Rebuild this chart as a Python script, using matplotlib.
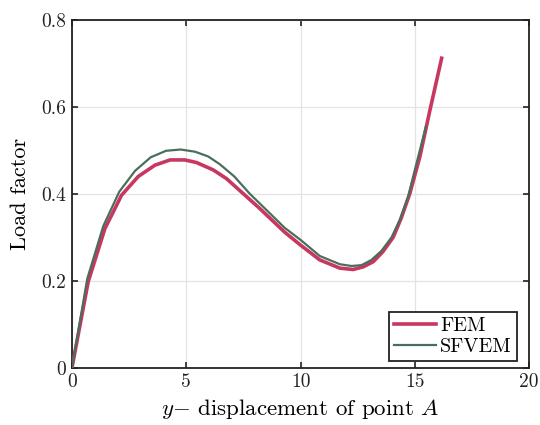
import matplotlib
matplotlib.use("Agg")
import matplotlib.pyplot as plt

plt.rcParams['font.family'] = 'cmr10'
plt.rcParams['mathtext.fontset'] = 'cm'
plt.rcParams['axes.formatter.use_mathtext'] = True

fem_x = [0, 0.71, 1.44, 2.17, 2.9, 3.63, 4.29, 4.94, 5.45, 6.18, 6.76, 7.5, 8.2, 8.66, 9.3,
         10.0, 10.84, 11.72, 12.3, 12.74, 13.18, 13.6, 14.05, 14.4, 14.78, 15.22, 15.66, 16.17]
fem_y = [0, 0.198, 0.32, 0.397, 0.44, 0.466, 0.478, 0.478, 0.472, 0.455, 0.435, 0.40, 0.367, 0.344, 0.312,
         0.282, 0.248, 0.229, 0.226, 0.232, 0.244, 0.267, 0.30, 0.344, 0.401, 0.486, 0.593, 0.712]

sf_x = [0, 0.67, 1.37, 2.07, 2.76, 3.44, 4.11, 4.75, 5.38, 5.96, 6.47, 7.1, 7.78, 8.66, 9.3,
        10.0, 10.84, 11.72, 12.23, 12.67, 13.1, 13.54, 13.98, 14.34, 14.7, 15.07, 15.48]
sf_y = [0, 0.205, 0.326, 0.405, 0.453, 0.484, 0.499, 0.502, 0.497, 0.486, 0.468, 0.44, 0.40, 0.355, 0.322,
        0.294, 0.257, 0.238, 0.234, 0.236, 0.248, 0.269, 0.30, 0.34, 0.393, 0.47, 0.554]

xticks = [0, 5, 10, 15, 20]
yticks = [0, 0.2, 0.4, 0.6, 0.8]
yticklabels = ['0', '0.2', '0.4', '0.6', '0.8']

fig = plt.figure(figsize=(5.4, 4.25), dpi=100)
ax = fig.add_axes([0.1333, 0.1348, 0.8467, 0.8182])

ax.plot(fem_x, fem_y, color='#C8375F', lw=2.6, label='FEM', zorder=3)
ax.plot(sf_x, sf_y, color='#4A6E5C', lw=1.6, label='SFVEM', zorder=4)

ax.set_xlim(0, 20)
ax.set_ylim(0, 0.8)
ax.set_xticks(xticks)
ax.set_xticklabels([str(t) for t in xticks])
ax.set_yticks(yticks)
ax.set_yticklabels(yticklabels)
ax.grid(True, color='#E3E3E3', lw=0.9, zorder=0)
ax.set_axisbelow(True)
ax.tick_params(direction='in', top=True, right=True, length=4, width=1.2,
               labelsize=14, pad=4, colors='#222222')
for s in ax.spines.values():
    s.set_linewidth(1.3)
    s.set_color('#222222')

ax.set_xlabel(r'$y{-}$ displacement of point $A$', fontsize=16.5, labelpad=4)
ax.set_ylabel('Load factor', fontsize=16, labelpad=8)

leg = ax.legend(loc='lower right', bbox_to_anchor=(0.973, 0.019), borderaxespad=0,
                fontsize=14.5, frameon=True, fancybox=False,
                edgecolor='#222222', framealpha=1, borderpad=0.25, handlelength=2.1,
                handletextpad=0.2, labelspacing=0.15)
leg.get_frame().set_linewidth(1.3)

fig.savefig('out.png', dpi=100)
